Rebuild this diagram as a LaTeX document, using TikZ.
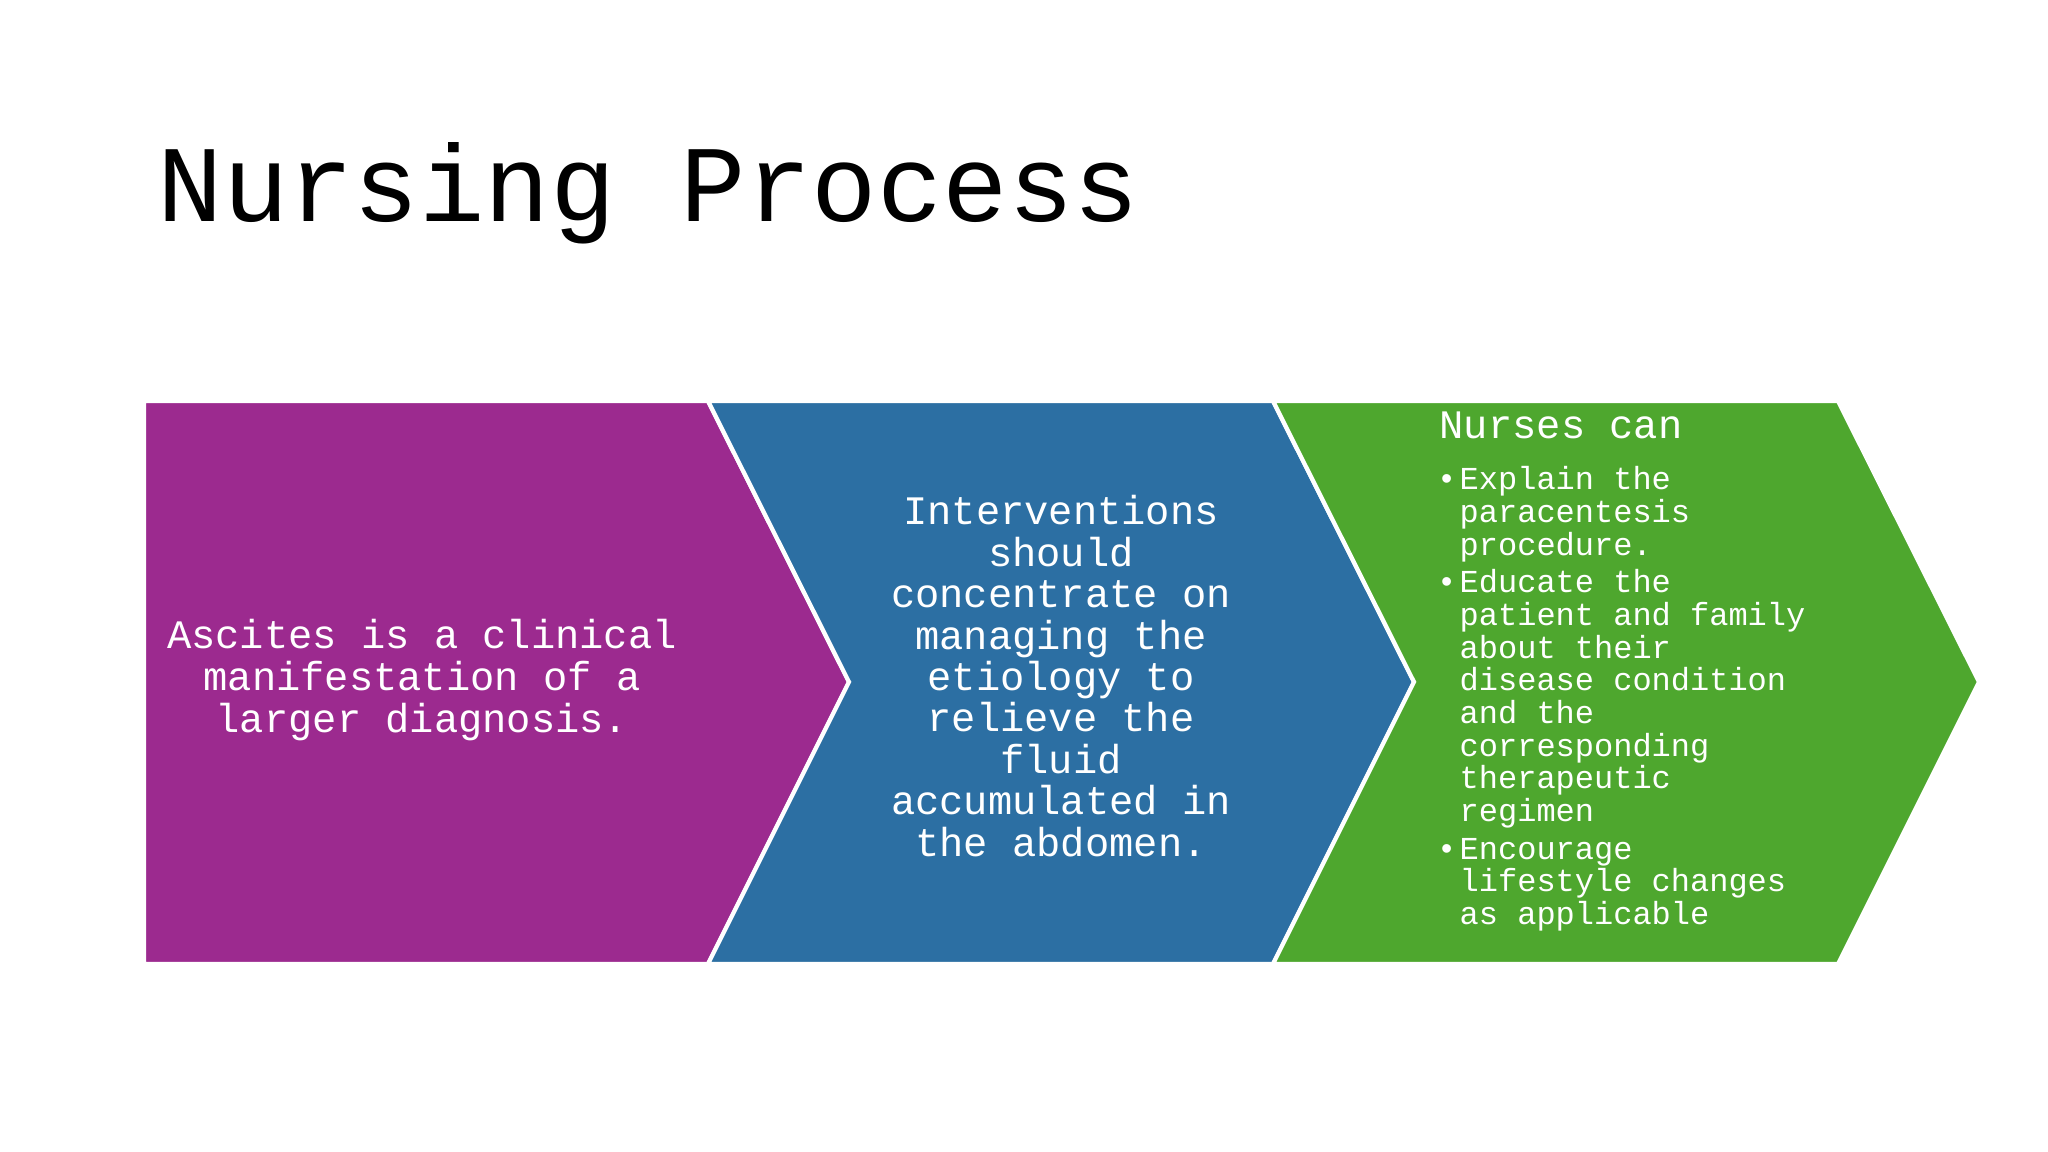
\documentclass[tikz,border=0pt]{standalone}
\usepackage{fontspec}
\setmonofont{Liberation Mono}
\definecolor{cpurple}{HTML}{9C2A8F}
\definecolor{cblue}{HTML}{2C6FA3}
\definecolor{cgreen}{HTML}{4EA72E}
\begin{document}
\begin{tikzpicture}[x=0.01cm,y=0.01cm,
  chev/.style={draw=white,line width=1.2pt},
  big/.style={text=white,font=\ttfamily\fontsize{11.5pt}{11.7pt}\selectfont,anchor=base,inner sep=0},
  small/.style={text=white,font=\ttfamily\fontsize{9.1pt}{9.3pt}\selectfont,anchor=base west,inner sep=0}]
\useasboundingbox (0,0) rectangle (2048,1152);
\fill[white] (0,0) rectangle (2048,1152);
\node[anchor=base west,inner sep=0,font=\ttfamily\fontsize{31pt}{33pt}\selectfont] (title) at (157,930) {Nursing Process};
\filldraw[chev,fill=cpurple] (144,751) -- (708,751) -- (849,470) -- (708,188) -- (144,188) -- cycle;
\filldraw[chev,fill=cblue] (708,751) -- (1273,751) -- (1414,470) -- (1273,188) -- (708,188) -- (849,470) -- cycle;
\filldraw[chev,fill=cgreen] (1273,751) -- (1838,751) -- (1979,470) -- (1838,188) -- (1273,188) -- (1414,470) -- cycle;
% purple
\node[big] (p1) at (422,503) {Ascites is a clinical};
\node[big] (p2) at (422,461) {manifestation of a};
\node[big] (p3) at (422,419) {larger diagnosis.};
% blue
\foreach \t [count=\i] in {Interventions,should,concentrate on,managing the,etiology to,relieve the,fluid,accumulated in,the abdomen.}
  \node[big] (b\i) at (1061,{627-41.4*(\i-1)}) {\t};
% green
\node[small,font=\ttfamily\fontsize{11.5pt}{11.7pt}\selectfont] (g0) at (1439,713) {Nurses can};
\foreach \t/\yy [count=\i] in {Explain the/375,paracentesis/400,procedure./425,Educate the/454,patient and family/479,about their/504,disease condition/529,and the/554,corresponding/579,therapeutic/604,regimen/629,Encourage/658,lifestyle changes/683,as applicable/708}
  \node[small] (g\i) at (1459,{1152-1.306*\yy}) {\t};
\foreach \yy [count=\i] in {375,454,658}
  \node[small,anchor=base east] (bul\i) at (1457,{1152-1.306*\yy}) {\textbullet};
\end{tikzpicture}
\end{document}
